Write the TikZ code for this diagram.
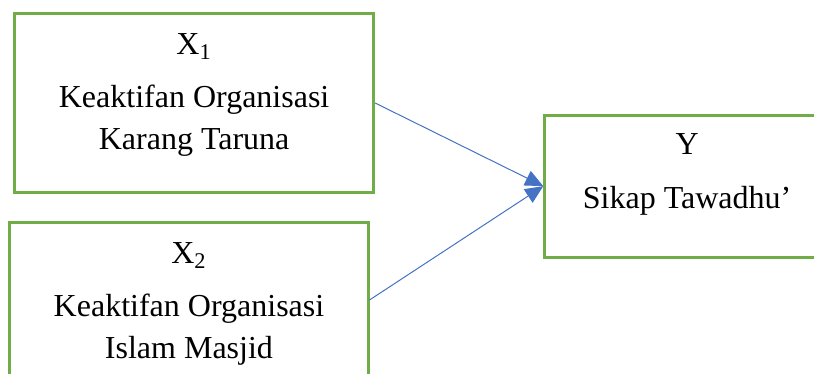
\documentclass[tikz,border=0pt]{standalone}
\usepackage{fontspec}
\setmainfont{Liberation Serif}
\definecolor{leafgreen}{RGB}{112,173,71}
\definecolor{wordblue}{RGB}{68,114,196}
\usepackage{tikz}
\usetikzlibrary{arrows.meta,positioning}

\begin{document}
\begin{tikzpicture}[
      arr/.style={-{Triangle[length=9pt,width=8pt]}, line width=0.5pt, wordblue},
      varbox/.style={draw=leafgreen, line width=1.5pt, fill=white,
                     align=center, inner sep=0pt,
                     font=\fontsize{16}{21}\selectfont}
    ]
    \useasboundingbox (0,0) rectangle (14.30,6.57);
    \clip (0,0) rectangle (14.30,6.57);

    \node[varbox, minimum width=6.31cm, minimum height=3.14cm] (x1) at (3.41,4.76) {%
      X\textsubscript{1}\\[5.5pt]
      Keaktifan Organisasi\\
      Karang Taruna\rule[-11.5pt]{0pt}{1pt}};
    \node[varbox, minimum width=6.29cm, minimum height=2.74cm] (x2) at (3.32,1.30) {%
      \rule{0pt}{14pt}X\textsubscript{2}\\[5.5pt]
      Keaktifan Organisasi\\
      Islam Masjid};
    \node[varbox, minimum width=5.00cm, minimum height=2.49cm] (y) at (12.07,3.30) {%
      Y\\[6pt]
      Sikap Tawadhu’\rule[-15.5pt]{0pt}{1pt}};

    \draw[arr] (x1.east)--(y.west);
    \draw[arr] (x2.east)--(y.west);
  \end{tikzpicture}
\end{document}
